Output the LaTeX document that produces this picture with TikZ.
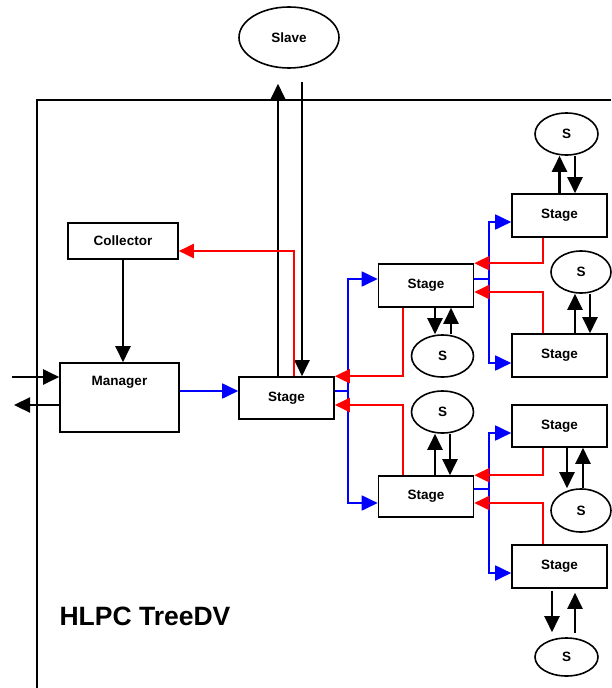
\documentclass[tikz,border=0pt]{standalone}
\usepackage{fontspec}
\setmainfont{Liberation Sans}
\usetikzlibrary{arrows.meta,shapes.geometric,calc}
\begin{document}
\begin{tikzpicture}[x=1pt,y=-1pt,
  lbl/.style={font=\bfseries\fontsize{13.5}{15}\selectfont},
  box/.style={draw,line width=1.6pt,rectangle,inner sep=0pt,lbl},
  stagebox/.style={box,minimum width=95pt,minimum height=43pt},
  ell/.style={draw,line width=1.6pt,ellipse,inner sep=0pt,lbl},
  sell/.style={ell,minimum width=62pt,minimum height=42pt},
  blk/.style={line width=2.2pt,black,-{Triangle[length=16pt,width=15pt]}},
  rd/.style={line width=2pt,red,-{Triangle[length=15pt,width=14pt]}},
  bl/.style={line width=1.5pt,blue},
  bla/.style={bl,line width=1.8pt,-{Triangle[length=16pt,width=15pt]}}]
\useasboundingbox (0,0) rectangle (611,688);
% frame
\draw[line width=1.5pt] (611,100) -- (37,100) -- (37,688);
% nodes
\node[ell,minimum width=100pt,minimum height=61pt] (slave) at (289,37.5) {Slave};
\node[box,minimum width=110pt,minimum height=36pt] (collector) at (123,241) {Collector};
\node[box,minimum width=119pt,minimum height=69pt,
  label={[lbl,anchor=center,yshift=-20pt]north:Manager}] (manager) at (119.5,397.5) {};
\node[stagebox,minimum height=42pt] (st1) at (286.5,398) {Stage};
\node[stagebox] (st2) at (426,285.5) {Stage};
\node[stagebox,minimum height=41pt] (st5) at (426,496.5) {Stage};
\node[stagebox] (st3) at (559.5,215.5) {Stage};
\node[stagebox] (st4) at (559.5,355.5) {Stage};
\node[stagebox,minimum height=42pt] (st6) at (559.5,426) {Stage};
\node[stagebox] (st7) at (559.5,566.5) {Stage};
\node[sell] (s2) at (442.5,356) {S};
\node[sell,minimum width=63pt] (s3) at (566.5,134) {S};
\node[sell,minimum width=60pt] (s4) at (581,272) {S};
\node[sell] (s5) at (442.5,412) {S};
\node[sell,minimum width=60pt,minimum height=43pt] (s6) at (581,510.5) {S};
\node[sell,minimum width=63pt,minimum height=38pt] (s7) at (566.5,657) {S};
\node[lbl,font=\bfseries\fontsize{26.5}{30}\selectfont,anchor=west] (title) at (56,616) {HLPC TreeDV};
% slave <-> stage1
\coordinate (u1) at ([xshift=-8.5pt]st1.north);
\coordinate (d1) at ([xshift=15.5pt]st1.north);
\draw[blk,shorten >=15pt] (u1) -- (u1 |- slave.south);
\draw[blk,shorten <=13pt] (d1 |- slave.south) -- (d1);
% collector -> manager
\draw[blk] (collector.south) -- (collector.south |- manager.north);
% external arrows
\coordinate (inL) at (12,377);
\coordinate (outL) at (14,405);
\draw[blk] (inL) -- (inL -| manager.west);
\draw[blk] (outL -| manager.west) -- (outL);
% manager -> stage1
\coordinate (m1) at ([yshift=7pt]st1.west);
\draw[bla] (m1 -| manager.east) -- (m1);
% stage1 -> collector (red)
\draw[rd] ([xshift=7.5pt]st1.north) |- ([yshift=-10pt]collector.east);
% bus 1
\coordinate (b1) at (348,0);
\coordinate (p1) at ([yshift=7pt]st1.east);
\coordinate (p2) at ([yshift=6.5pt]st2.west);
\coordinate (p5) at ([yshift=-6.5pt]st5.west);
\draw[bl] (p1) -- (b1 |- p1);
\draw[bla] (b1 |- p5) -- (b1 |- p2) -- (p2);
\draw[bla] (b1 |- p2) -- (b1 |- p5) -- (p5);
\draw[rd] ([xshift=-23pt]st2.south) |- (st1.north east);
\draw[rd] ([xshift=-23pt]st5.north) |- ([yshift=-7pt]st1.east);
% bus 2
\coordinate (b2) at (489,0);
\coordinate (q2) at ([yshift=6.5pt]st2.east);
\coordinate (q3) at ([yshift=-6.5pt]st3.west);
\coordinate (q4) at ([yshift=-7.5pt]st4.west);
\draw[bl] (q2) -- (b2 |- q2);
\draw[bla] (b2 |- q4) -- (b2 |- q3) -- (q3);
\draw[bla] (b2 |- q3) -- (b2 |- q4) -- (q4);
\draw[rd] ([xshift=-16.5pt]st3.south) |- (st2.north east);
\draw[rd] ([xshift=-16.5pt]st4.north) |- ([yshift=-6.5pt]st2.east);
% bus 3
\coordinate (b3) at (489,0);
\coordinate (r5) at ([yshift=7.5pt]st5.east);
\coordinate (r6) at ([yshift=-7pt]st6.west);
\coordinate (r7) at ([yshift=-6.5pt]st7.west);
\draw[bl] (r5) -- (b3 |- r5);
\draw[bla] (b3 |- r7) -- (b3 |- r6) -- (r6);
\draw[bla] (b3 |- r6) -- (b3 |- r7) -- (r7);
\draw[rd] ([xshift=-16.5pt]st6.south) |- (st5.north east);
\draw[rd] ([xshift=-16.5pt]st7.north) |- ([yshift=-6.5pt]st5.east);
% stage <-> S
\coordinate (a2d) at ([xshift=9pt]st2.south);
\coordinate (a2u) at ([xshift=25pt]st2.south);
\draw[blk] (a2d) -- (a2d |- s2.north);
\draw[blk] (a2u |- s2.north) -- (a2u);
\coordinate (a3u) at ([xshift=0pt]st3.north);
\coordinate (a3d) at ([xshift=15.5pt]st3.north);
\draw[blk] (a3u) -- (a3u |- s3.south);
\draw[blk] (a3d |- s3.south) -- (a3d);
\coordinate (a4u) at ([xshift=15.5pt]st4.north);
\coordinate (a4d) at ([xshift=30.5pt]st4.north);
\draw[blk] (a4u) -- (a4u |- s4.south);
\draw[blk] (a4d |- s4.south) -- (a4d);
\coordinate (a5u) at ([xshift=9pt]st5.north);
\coordinate (a5d) at ([xshift=24pt]st5.north);
\draw[blk] (a5u) -- (a5u |- s5.south);
\draw[blk] (a5d |- s5.south) -- (a5d);
\coordinate (a6d) at ([xshift=7.5pt]st6.south);
\coordinate (a6u) at ([xshift=23.5pt]st6.south);
\draw[blk] (a6d) -- (a6d |- s6.north);
\draw[blk] (a6u |- s6.north) -- (a6u);
\coordinate (a7d) at ([xshift=-7.5pt]st7.south);
\coordinate (a7u) at ([xshift=15.5pt]st7.south);
\draw[blk,shorten <=2pt,shorten >=5pt] (a7d) -- (a7d |- s7.north);
\draw[blk,shorten <=4pt,shorten >=4pt] (a7u |- s7.north) -- (a7u);
\end{tikzpicture}
\end{document}
